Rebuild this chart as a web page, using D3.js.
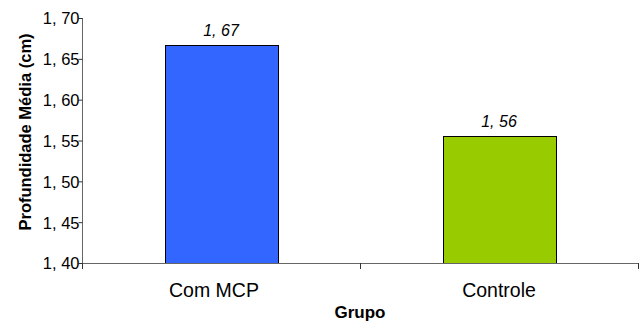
<!DOCTYPE html>
<html><head><meta charset="utf-8">
<script src="https://cdn.jsdelivr.net/npm/d3@7"></script>
<style>body{margin:0;background:#fff}svg{display:block}text{font-family:"Liberation Sans",Arial,sans-serif;fill:#000}</style>
</head><body><svg id="c" width="639" height="323"></svg>
<script>
const categories = ["Com MCP", "Controle"];
const values = [1.667, 1.556];
const valueLabels = ["1, 67", "1, 56"];
const colors = ["#3366FF", "#99CC00"];
const yTicks = [1.40, 1.45, 1.50, 1.55, 1.60, 1.65, 1.70];
const yTickLabels = ["1, 40", "1, 45", "1, 50", "1, 55", "1, 60", "1, 65", "1, 70"];

const svg = d3.select("#c");
const L = 82, R = 638, T = 18, B = 263;
const y = d3.scaleLinear().domain([1.4, 1.7]).range([B, T]);
const x = d3.scaleBand().domain(categories).range([L, R]).paddingInner(0.595).paddingOuter(0.2975);
const labelShift = [-7, 0];

// bars
svg.selectAll("rect.bar").data(values).join("rect")
  .attr("class", "bar")
  .attr("x", (d, i) => Math.round(x(categories[i])) + 0.5)
  .attr("width", Math.round(x.bandwidth()))
  .attr("y", d => Math.round(y(d)) + 0.5)
  .attr("height", d => Math.round(B - y(d)))
  .attr("fill", (d, i) => colors[i])
  .attr("stroke", "#000").attr("stroke-width", 1);

// value labels
svg.selectAll("text.val").data(values).join("text")
  .attr("class", "val")
  .attr("x", (d, i) => x(categories[i]) + x.bandwidth() / 2)
  .attr("y", d => y(d) - 9)
  .attr("text-anchor", "middle")
  .attr("font-style", "italic")
  .attr("font-size", 16)
  .text((d, i) => valueLabels[i]);

// y axis
const yAxis = d3.axisLeft(y).tickValues(yTicks).tickSize(4).tickFormat((d, i) => yTickLabels[i]);
const gy = svg.append("g").attr("transform", `translate(${L + 0.5},0)`).call(yAxis);
gy.select(".domain").attr("stroke", "#666").attr("d", `M0,${T}V${B}`);
gy.selectAll(".tick line").attr("stroke", "#333");
gy.selectAll(".tick text").attr("font-size", 16.5).attr("x", -3).attr("dy", "0.36em")
  .attr("font-family", "Liberation Sans, Arial, sans-serif").attr("fill", "#000");

// x axis line with boundary ticks
const bounds = [L, (L + R) / 2, R];
svg.append("line").attr("x1", L).attr("x2", R).attr("y1", B + 0.5).attr("y2", B + 0.5).attr("stroke", "#666");
svg.selectAll("line.xt").data(bounds).join("line").attr("class", "xt")
  .attr("x1", d => Math.round(d) + 0.5).attr("x2", d => Math.round(d) + 0.5)
  .attr("y1", B).attr("y2", B + 6).attr("stroke", "#333");

svg.selectAll("text.cat").data(categories).join("text").attr("class", "cat")
  .attr("x", (d, i) => x(d) + x.bandwidth() / 2 + labelShift[i])
  .attr("y", 297)
  .attr("text-anchor", "middle")
  .attr("font-size", 19.5)
  .text(d => d);

svg.append("text").attr("x", (L + R) / 2).attr("y", 318).attr("text-anchor", "middle")
  .attr("font-weight", "bold").attr("font-size", 17).text("Grupo");

svg.append("text").attr("transform", `translate(31,132) rotate(-90)`)
  .attr("text-anchor", "middle").attr("font-weight", "bold").attr("font-size", 16.5)
  .text("Profundidade Média (cm)");
</script></body></html>
